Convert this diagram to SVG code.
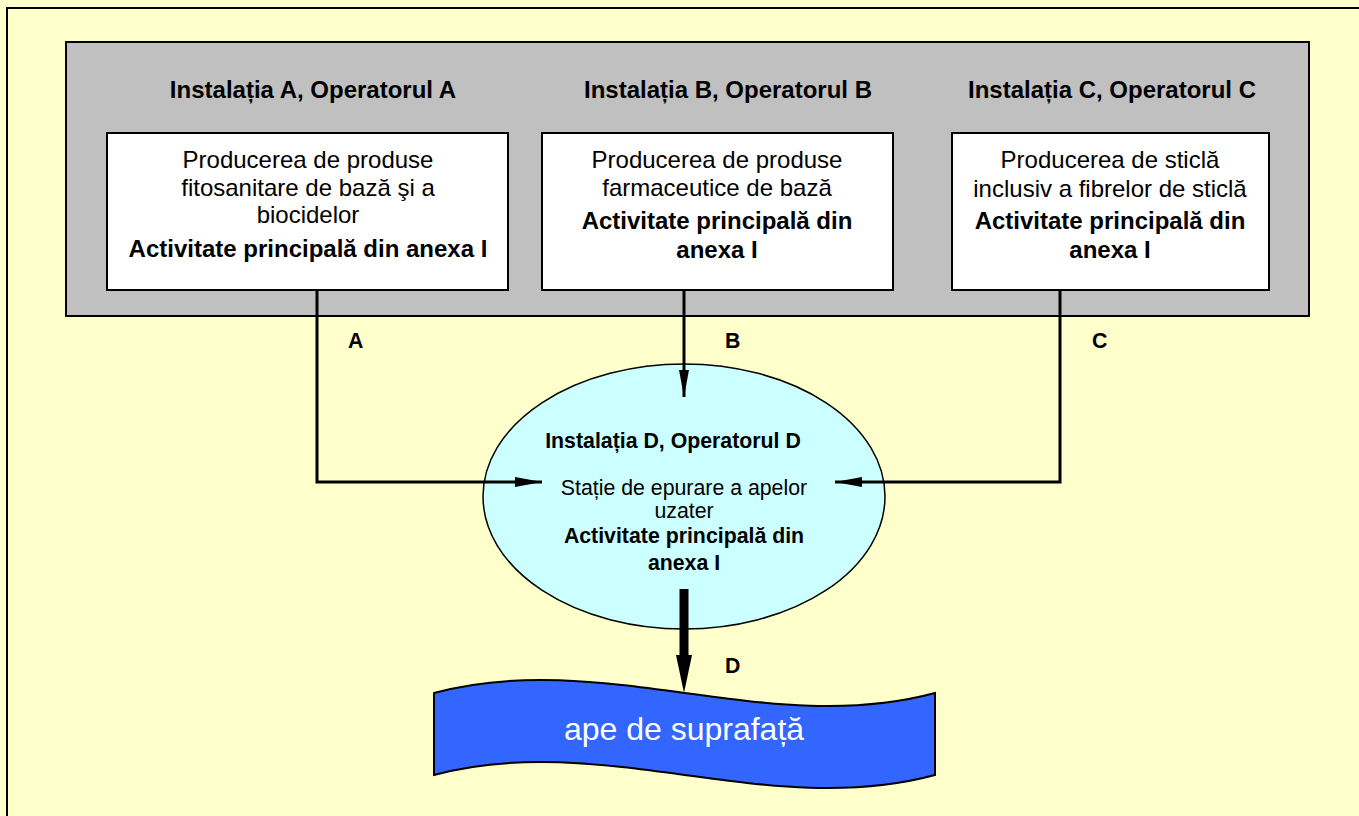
<svg xmlns="http://www.w3.org/2000/svg" width="1359" height="816" viewBox="0 0 1359 816">
<style>
text{font-family:"Liberation Sans",Arial,sans-serif;fill:#000;text-anchor:middle}
.t{font-size:24px;font-weight:bold}
.r{font-size:24px}
.b{font-size:24px;font-weight:bold}
.e{font-size:21.3px}
.eb{font-size:21.3px;font-weight:bold}
.lab{font-size:21.3px;font-weight:bold;text-anchor:start}
.box{fill:#fff;stroke:#000;stroke-width:2}
.ln{fill:none;stroke:#000;stroke-width:3}
</style>
<defs>
<marker id="ah" markerUnits="userSpaceOnUse" markerWidth="28" markerHeight="12" refX="27" refY="5" orient="auto" viewBox="0 0 28 10">
<path d="M0,0 L27,5 L0,10 Z" fill="#000"/>
</marker>
</defs>
<rect x="0" y="0" width="1359" height="816" fill="#FFFFCC"/>
<rect id="frame" x="7" y="8" width="1400" height="900" fill="#FFFFCC" stroke="#000" stroke-width="2"/>
<g id="group-abc">
<rect x="66" y="42" width="1243" height="274" fill="#C0C0C0" stroke="#000" stroke-width="2"/>
</g>
<g id="node-a">
<text class="t" x="313" y="98">Instalația A, Operatorul A</text>
<rect class="box" x="107" y="133" width="401" height="157"/>
<text class="r" x="308" y="168">Producerea de produse</text>
<text class="r" x="308" y="196">fitosanitare de bază şi a</text>
<text class="r" x="308" y="223">biocidelor</text>
<text class="b" x="308" y="257">Activitate principală din anexa I</text>
</g>
<g id="node-b">
<text class="t" x="728" y="98">Instalația B, Operatorul B</text>
<rect class="box" x="542" y="133" width="351" height="157"/>
<text class="r" x="717" y="168">Producerea de produse</text>
<text class="r" x="717" y="196">farmaceutice de bază</text>
<text class="b" x="717" y="229">Activitate principală din</text>
<text class="b" x="717" y="258">anexa I</text>
</g>
<g id="node-c">
<text class="t" x="1112" y="98">Instalația C, Operatorul C</text>
<rect class="box" x="952" y="133" width="317" height="157"/>
<text class="r" x="1110" y="168">Producerea de sticlă</text>
<text class="r" x="1110" y="197">inclusiv a fibrelor de sticlă</text>
<text class="b" x="1110" y="229">Activitate principală din</text>
<text class="b" x="1110" y="258">anexa I</text>
</g>
<g id="node-d">
<ellipse cx="684" cy="496.5" rx="201" ry="132.5" fill="#CCFFFF" stroke="#000" stroke-width="1.5"/>
<text class="eb" x="673" y="448">Instalația D, Operatorul D</text>
<text class="e" x="684" y="495">Stație de epurare a apelor</text>
<text class="e" x="684" y="518">uzater</text>
<text class="eb" x="684" y="543">Activitate principală din</text>
<text class="eb" x="684" y="570">anexa I</text>
</g>
<g id="node-water">
<path d="M434,693 C601,648 768,738 935,693 L935,775 C768,820 601,730 434,775 Z" fill="#3366FF" stroke="#000" stroke-width="2"/>
<text x="684" y="740" style="font-size:32px;fill:#fff">ape de suprafață</text>
</g>
<g id="connectors">
<path class="ln" d="M317,290 L317,482 L542,482" marker-end="url(#ah)"/>
<path class="ln" d="M684,290 L684,397" marker-end="url(#ah)"/>
<path class="ln" d="M1060,290 L1060,482 L835,482" marker-end="url(#ah)"/>
<rect x="679.5" y="589" width="9" height="70" fill="#000"/>
<path d="M676,655 L692,655 L684,693 Z" fill="#000"/>
</g>
<g id="labels">
<text class="lab" x="348" y="348">A</text>
<text class="lab" x="725" y="348">B</text>
<text class="lab" x="1092" y="348">C</text>
<text class="lab" x="725" y="673">D</text>
</g>
</svg>
